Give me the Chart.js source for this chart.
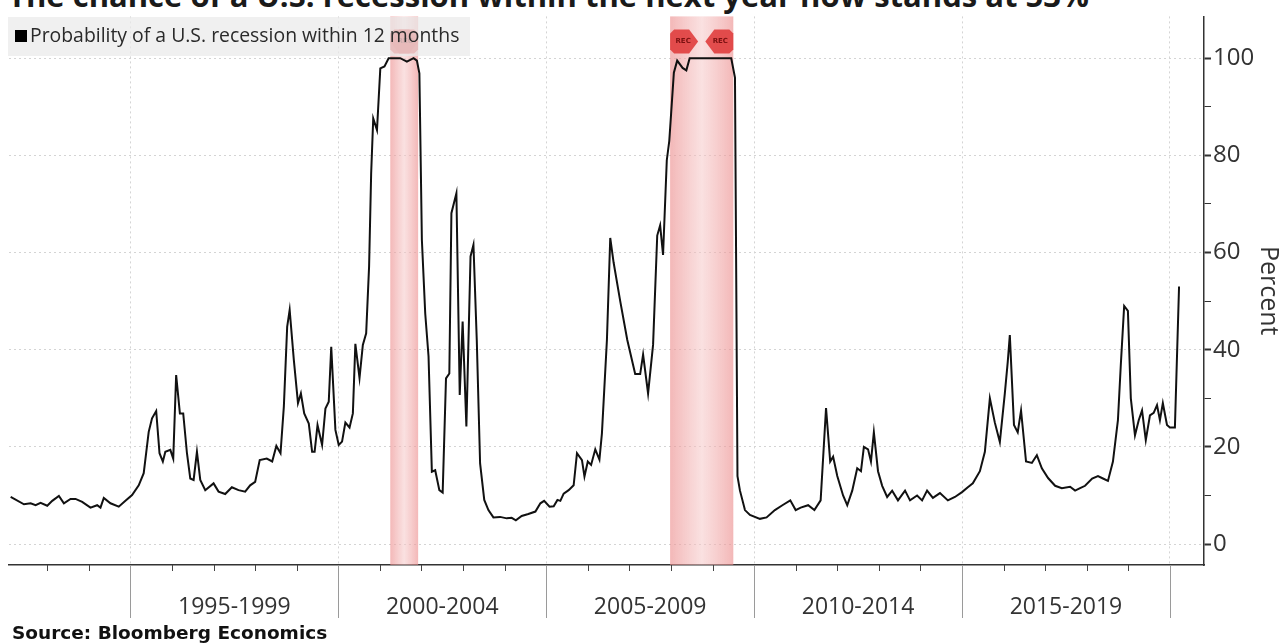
<!DOCTYPE html>
<html>
<head>
<meta charset="utf-8">
<script src="https://cdn.jsdelivr.net/npm/chart.js@4.4.0/dist/chart.umd.min.js"></script>
<style>
  html, body { margin: 0; padding: 0; background: #fff; }
  #wrap { position: relative; width: 1283px; height: 643px; overflow: hidden; }
  #title { position: absolute; left: 8px; top: -26px; font: bold 31px 'Open Sans', sans-serif; color: #1a1a1a; white-space: nowrap; }
  #source { position: absolute; left: 12px; top: 622px; font: bold 18.5px 'DejaVu Sans', sans-serif; color: #111; white-space: nowrap; }
  canvas { position: absolute; left: 0; top: 0; }
</style>
</head>
<body>
<div id="wrap">
  <div id="title">The chance of a U.S. recession within the next year now stands at 53%</div>
  <canvas id="recessionChart" width="1283" height="643"></canvas>
  <div id="source">Source: Bloomberg Economics</div>
</div>
<script>
// monthly-ish readings, decimal years
const probDates = [
  1992.12, 1992.44, 1992.60, 1992.72, 1992.84, 1993.00, 1993.12, 1993.28, 1993.40, 1993.56,
  1993.68, 1993.84, 1994.04, 1994.20, 1994.28, 1994.36, 1994.52, 1994.72, 1994.88, 1995.04,
  1995.20, 1995.32, 1995.44, 1995.52, 1995.62, 1995.70, 1995.78, 1995.84, 1995.96, 1996.03,
  1996.10, 1996.19, 1996.27, 1996.36, 1996.44, 1996.52, 1996.60, 1996.68, 1996.80, 1997.00,
  1997.12, 1997.28, 1997.44, 1997.60, 1997.76, 1997.88, 1998.00, 1998.11, 1998.28, 1998.41,
  1998.51, 1998.61, 1998.69, 1998.77, 1998.83, 1998.93, 1999.03, 1999.10, 1999.18, 1999.29,
  1999.37, 1999.43, 1999.50, 1999.61, 1999.69, 1999.77, 1999.83, 1999.93, 2000.01, 2000.09,
  2000.17, 2000.27, 2000.35, 2000.41, 2000.51, 2000.59, 2000.67, 2000.74, 2000.79, 2000.84,
  2000.93, 2001.01, 2001.11, 2001.21, 2001.33, 2001.49, 2001.65, 2001.81, 2001.89, 2001.95,
  2002.01, 2002.09, 2002.17, 2002.25, 2002.33, 2002.43, 2002.51, 2002.59, 2002.67, 2002.72,
  2002.84, 2002.92, 2002.99, 2003.08, 2003.18, 2003.25, 2003.33, 2003.41, 2003.51, 2003.61,
  2003.73, 2003.89, 2004.05, 2004.17, 2004.27, 2004.41, 2004.57, 2004.74, 2004.86, 2004.95,
  2005.08, 2005.18, 2005.27, 2005.34, 2005.42, 2005.54, 2005.66, 2005.74, 2005.86, 2005.92,
  2006.00, 2006.08, 2006.18, 2006.28, 2006.34, 2006.46, 2006.54, 2006.62, 2006.78, 2006.95,
  2007.14, 2007.26, 2007.33, 2007.45, 2007.57, 2007.67, 2007.74, 2007.81, 2007.90, 2007.96,
  2008.07, 2008.15, 2008.28, 2008.37, 2008.45, 2009.20, 2009.45, 2009.54, 2009.60, 2009.66,
  2009.78, 2009.90, 2010.14, 2010.30, 2010.50, 2010.68, 2010.87, 2011.00, 2011.12, 2011.30,
  2011.45, 2011.60, 2011.73, 2011.83, 2011.90, 2012.00, 2012.14, 2012.24, 2012.36, 2012.48,
  2012.57, 2012.64, 2012.74, 2012.81, 2012.88, 2012.98, 2013.08, 2013.20, 2013.32, 2013.46,
  2013.63, 2013.75, 2013.92, 2014.04, 2014.16, 2014.30, 2014.47, 2014.66, 2014.83, 2015.00,
  2015.14, 2015.26, 2015.43, 2015.55, 2015.67, 2015.79, 2015.91, 2016.03, 2016.10, 2016.15,
  2016.25, 2016.34, 2016.42, 2016.54, 2016.68, 2016.80, 2016.92, 2017.07, 2017.24, 2017.40,
  2017.60, 2017.72, 2017.84, 2017.96, 2018.13, 2018.27, 2018.39, 2018.51, 2018.63, 2018.75,
  2018.82, 2018.90, 2018.99, 2019.06, 2019.16, 2019.25, 2019.33, 2019.42, 2019.52, 2019.61,
  2019.69, 2019.76, 2019.83, 2019.93, 2020.00, 2020.12, 2020.22
];
const probValues = [
  9.7, 8.2, 8.4, 8.0, 8.5, 7.9, 8.9, 9.9, 8.4, 9.3,
  9.3, 8.7, 7.5, 8.0, 7.5, 9.5, 8.4, 7.7, 8.9, 10.1,
  12.1, 14.6, 23.1, 25.9, 27.4, 18.7, 17.0, 19.0, 19.4, 17.6,
  34.8, 26.9, 26.9, 18.7, 13.5, 13.2, 19.0, 13.2, 11.1, 12.5,
  10.8, 10.3, 11.7, 11.1, 10.8, 12.1, 12.8, 17.3, 17.6, 17.0,
  20.2, 18.7, 28.3, 44.7, 48.2, 37.9, 29.0, 31.0, 26.9, 24.8,
  19.0, 19.0, 24.5, 20.4, 27.9, 29.3, 40.6, 23.5, 20.4, 21.1,
  25.0, 24.0, 26.9, 41.2, 34.2, 41.0, 43.4, 57.1, 76.3, 87.6,
  85.2, 97.9, 98.3, 100, 100, 100, 99.3, 100, 99.5, 96.9,
  62.6, 47.5, 38.6, 14.9, 15.2, 11.1, 10.6, 34.1, 35.1, 68.1,
  72.2, 30.7, 45.8, 24.2, 59.2, 61.6, 42.0, 16.6, 9.1, 7.0,
  5.5, 5.6, 5.3, 5.4, 4.9, 5.8, 6.2, 6.7, 8.4, 8.9,
  7.7, 7.8, 9.1, 8.9, 10.4, 11.1, 12.1, 18.7, 17.3, 13.9,
  17.0, 16.3, 19.5, 17.4, 22.8, 42.0, 63.0, 58.0, 50.0, 42.0,
  35.0, 35.0, 39.0, 31.0, 41.0, 63.5, 65.6, 59.5, 79.0, 83.0,
  97.0, 99.5, 98.0, 97.5, 100, 100, 100, 96.0, 14.0, 11.0,
  7.0, 6.0, 5.2, 5.5, 7.0, 8.0, 9.0, 7.0, 7.5, 8.0,
  7.0, 9.0, 28.0, 17.0, 18.0, 14.0, 10.0, 8.0, 11.0, 15.6,
  15.0, 20.0, 19.5, 17.0, 23.0, 15.0, 12.0, 9.7, 11.0, 9.0,
  11.0, 9.0, 10.0, 9.0, 11.0, 9.5, 10.5, 9.0, 9.7, 10.7,
  11.7, 12.5, 15.0, 19.0, 30.0, 25.0, 21.0, 31.0, 37.5, 43.0,
  24.5, 23.0, 27.5, 17.0, 16.7, 18.3, 15.6, 13.6, 12.0, 11.5,
  11.8, 11.0, 11.5, 12.0, 13.5, 14.0, 13.5, 13.0, 17.0, 25.5,
  37.0, 49.0, 48.0, 30.0, 22.4, 25.5, 27.5, 21.4, 26.5, 27.0,
  28.6, 25.5, 29.0, 24.5, 24.0, 24.0, 53.0
];

// NBER recessions
const recessionStarts = [2001.25, 2007.98];
const recessionEnds = [2001.92, 2009.50];

const xTickYears = [1993, 1994, 1995, 1996, 1997, 1998, 1999, 2000, 2001, 2002, 2003, 2004, 2005, 2006,
  2007, 2008, 2009, 2010, 2011, 2012, 2013, 2014, 2015, 2016, 2017, 2018, 2019, 2020];
const periodStarts = [1995, 2000, 2005, 2010, 2015];
const periodLabels = ['1995-1999', '2000-2004', '2005-2009', '2010-2014', '2015-2019'];
const yTickValues = [0, 10, 20, 30, 40, 50, 60, 70, 80, 90, 100];
const legendLabel = 'Probability of a U.S. recession within 12 months';

// pink bands behind the line, REC flags, legend box and the x-axis period labels
const decorPlugin = {
  id: 'decor',
  beforeDatasetsDraw(chart) {
    const { ctx, chartArea, scales: { x } } = chart;
    ctx.save();
    recessionStarts.forEach((s, i) => {
      const x0 = x.getPixelForValue(s);
      const x1 = x.getPixelForValue(recessionEnds[i]);
      const g = ctx.createLinearGradient(x0, 0, x1, 0);
      g.addColorStop(0, 'rgba(236,140,140,0.62)');
      g.addColorStop(0.5, 'rgba(246,200,200,0.55)');
      g.addColorStop(1, 'rgba(236,140,140,0.62)');
      ctx.fillStyle = g;
      ctx.fillRect(x0, chartArea.top, x1 - x0, chartArea.bottom - chartArea.top);
    });
    ctx.restore();
  },
  afterDatasetsDraw(chart) {
    const { ctx, chartArea, scales: { x } } = chart;
    ctx.save();
    // REC flags
    const top = chartArea.top + 13, h = 24, w = 28;
    const flag = (xa, dir) => {
      ctx.beginPath();
      if (dir > 0) {
        ctx.moveTo(xa, top + 4); ctx.lineTo(xa + 4, top); ctx.lineTo(xa + w - 9, top);
        ctx.lineTo(xa + w, top + h / 2); ctx.lineTo(xa + w - 9, top + h);
        ctx.lineTo(xa + 4, top + h); ctx.lineTo(xa, top + h - 4);
      } else {
        ctx.moveTo(xa, top + 4); ctx.lineTo(xa - 4, top); ctx.lineTo(xa - w + 9, top);
        ctx.lineTo(xa - w, top + h / 2); ctx.lineTo(xa - w + 9, top + h);
        ctx.lineTo(xa - 4, top + h); ctx.lineTo(xa, top + h - 4);
      }
      ctx.closePath();
      ctx.fillStyle = 'rgba(224,62,62,0.9)';
      ctx.fill();
      ctx.fillStyle = '#7a1010';
      ctx.font = 'bold 7px "DejaVu Sans"';
      ctx.textAlign = 'center';
      ctx.textBaseline = 'middle';
      ctx.fillText('REC', xa + dir * (w / 2 - 1), top + h / 2);
    };
    recessionStarts.forEach((s, i) => {
      flag(x.getPixelForValue(s), 1);
      flag(x.getPixelForValue(recessionEnds[i]), -1);
    });
    // legend box, see-through so the band and flags show faintly
    ctx.fillStyle = 'rgba(234,234,234,0.72)';
    ctx.fillRect(8, 17, 462, 39);
    ctx.fillStyle = '#000';
    ctx.fillRect(15, 30, 12, 12);
    ctx.fillStyle = '#2a2a2a';
    ctx.font = '19.4px "Open Sans"';
    ctx.textAlign = 'left';
    ctx.textBaseline = 'middle';
    ctx.fillText(legendLabel, 30, 36.5);
    ctx.restore();
  },
  afterDraw(chart) {
    const { ctx, chartArea, scales: { x } } = chart;
    const bottom = chartArea.bottom;
    ctx.save();
    x.ticks.forEach(t => {
      const px = Math.round(x.getPixelForValue(t.value)) + 0.5;
      const major = periodStarts.includes(t.value) || t.value === 2020;
      ctx.strokeStyle = major ? '#9a9a9a' : '#444';
      ctx.lineWidth = 1;
      ctx.beginPath();
      ctx.moveTo(px, bottom);
      ctx.lineTo(px, bottom + (major ? 53 : 6));
      ctx.stroke();
    });
    ctx.fillStyle = '#333';
    ctx.font = '23px "Open Sans"';
    ctx.textAlign = 'center';
    ctx.textBaseline = 'middle';
    periodStarts.forEach((s, i) => {
      ctx.fillText(periodLabels[i], x.getPixelForValue(s + 2.5), bottom + 42);
    });
    ctx.restore();
  }
};

new Chart(document.getElementById('recessionChart'), {
  type: 'line',
  data: {
    datasets: [{
      label: legendLabel,
      data: probDates.map((d, i) => ({ x: d, y: probValues[i] })),
      borderColor: '#111',
      borderWidth: 2,
      pointRadius: 0,
      tension: 0,
      fill: false
    }]
  },
  options: {
    responsive: false,
    animation: false,
    layout: { padding: { top: 16, left: 9, right: 0, bottom: 0 } },
    plugins: {
      legend: { display: false },
      tooltip: { enabled: false }
    },
    scales: {
      x: {
        type: 'linear',
        min: 1992.08,
        max: 2020.82,
        afterBuildTicks: s => { s.ticks = xTickYears.map(v => ({ value: v })); },
        afterFit: s => { s.height = 78; },
        ticks: { display: false },
        grid: {
          drawTicks: false,
          color: c => (c.tick && c.tick.value % 5 === 0) ? '#d4d4d4' : 'rgba(0,0,0,0)',
          lineWidth: 1
        },
        border: { display: true, color: '#333', width: 1.5, dash: [2, 3] }
      },
      y: {
        position: 'right',
        min: -4.3,
        max: 108.6,
        afterBuildTicks: s => { s.ticks = yTickValues.map(v => ({ value: v })); },
        afterFit: s => { s.width = 79; },
        ticks: {
          color: '#333',
          font: { family: 'Open Sans', size: 24 },
          padding: 2,
          callback: v => (v % 20 === 0 ? String(v) : '')
        },
        grid: {
          drawTicks: true,
          tickLength: 7,
          tickColor: '#333',
          tickWidth: c => (c.tick && c.tick.value % 20 === 0) ? 2 : 1,
          color: c => (c.tick && c.tick.value % 20 === 0) ? '#d4d4d4' : 'rgba(0,0,0,0)',
          lineWidth: 1
        },
        border: { display: true, color: '#333', width: 1.5, dash: [2, 3] },
        title: {
          display: true,
          text: 'Percent',
          color: '#333',
          font: { family: 'Open Sans', size: 25 },
          padding: { top: 0, bottom: 2 }
        }
      }
    }
  },
  plugins: [decorPlugin]
});
</script>
</body>
</html>
